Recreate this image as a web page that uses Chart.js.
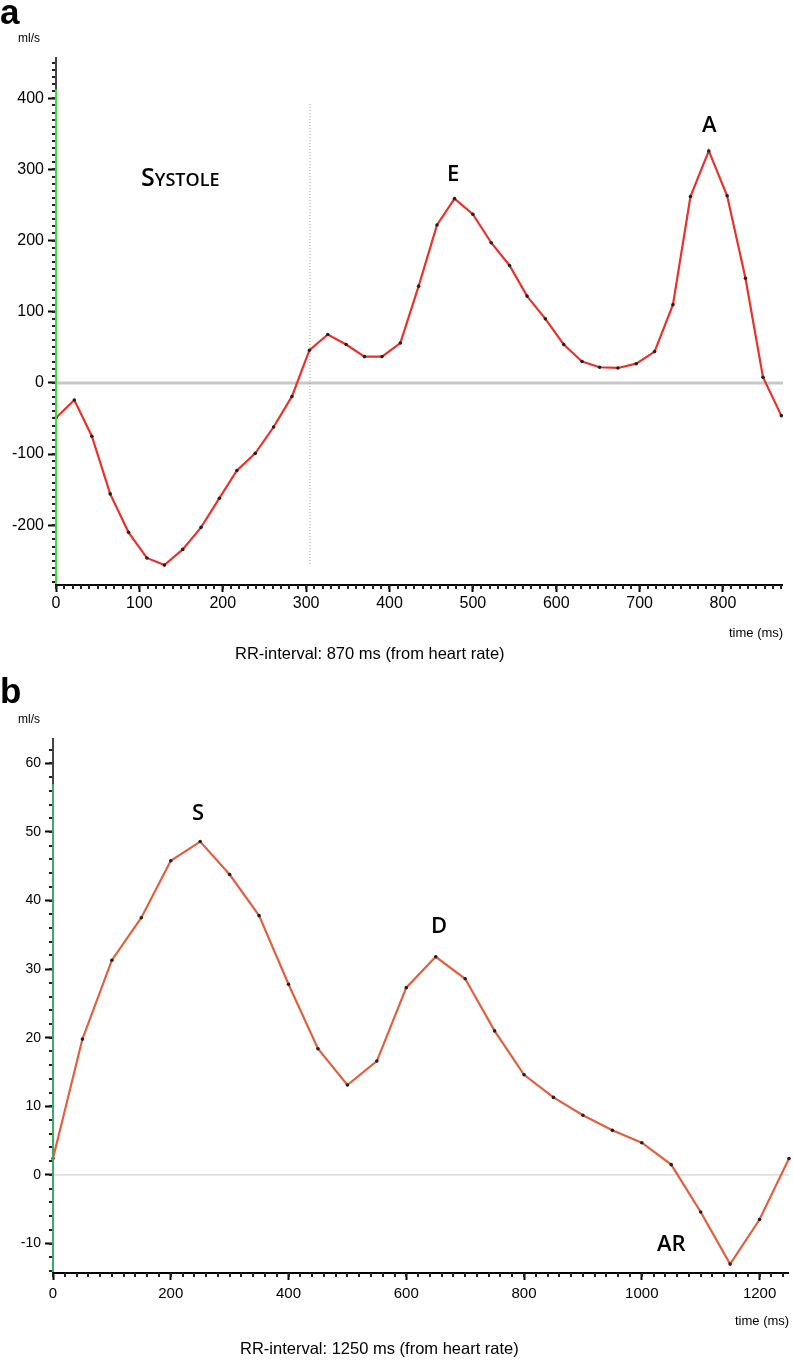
<!DOCTYPE html>
<html>
<head>
<meta charset="utf-8">
<script src="https://cdn.jsdelivr.net/npm/chart.js@4"></script>
<style>
  html, body { margin:0; padding:0; background:#fff; }
  #wrap { position:relative; width:793px; height:1361px; overflow:hidden; font-family:'Liberation Sans', Arial, sans-serif; }
  canvas { position:absolute; left:0; }
  .t { position:absolute; white-space:nowrap; color:#000; line-height:1; }
  .panel { font-weight:bold; font-size:35px; }
  .unit { font-size:12px; }
  .lbl { font-family:'Open Sans','Noto Sans',sans-serif; font-weight:600; font-size:22px; }
  .sc { font-variant:small-caps; font-size:25px; }
  .time { font-size:13px; }
  .rr { font-size:16.5px; }
</style>
</head>
<body>
<div id="wrap">
  <canvas id="ca" width="793" height="670" style="top:0"></canvas>
  <canvas id="cb" width="793" height="691" style="top:670px"></canvas>

  <div class="t panel" style="left:0;top:-6px">a</div>
  <div class="t unit" style="left:18px;top:32px">ml/s</div>
  <div class="t lbl sc" style="left:141px;top:164px">Systole</div>
  <div class="t lbl" style="left:447px;top:161px">E</div>
  <div class="t lbl" style="left:702px;top:112px">A</div>
  <div class="t time" style="left:729px;top:626px">time (ms)</div>
  <div class="t rr" style="left:235px;top:645px">RR-interval: 870 ms (from heart rate)</div>

  <div class="t panel" style="left:0;top:673px">b</div>
  <div class="t unit" style="left:18px;top:713px">ml/s</div>
  <div class="t lbl" style="left:192px;top:800px">S</div>
  <div class="t lbl" style="left:431px;top:913px">D</div>
  <div class="t lbl" style="left:657px;top:1231px">AR</div>
  <div class="t time" style="left:735px;top:1314px">time (ms)</div>
  <div class="t rr" style="left:240px;top:1340px">RR-interval: 1250 ms (from heart rate)</div>
</div>
<script>
// ---------- Panel a: mitral inflow ----------
const aTimes = [0, 22, 43, 65, 87, 109, 130, 152, 174, 196, 217, 239, 261, 283, 304, 326, 348, 370, 391, 413, 435,
                457, 478, 500, 522, 544, 565, 587, 609, 631, 652, 674, 696, 718, 740, 761, 783, 805, 827, 848, 870];
const aFlow  = [-49, -24, -75, -156, -210, -246, -256, -234, -203, -162, -123, -99, -62, -19, 46, 68, 54, 37, 37, 56, 136,
                222, 259, 237, 197, 165, 122, 90, 54, 30, 22, 21, 27, 44, 110, 262, 326, 263, 147, 8, -46];
const aXTicks = [0, 100, 200, 300, 400, 500, 600, 700, 800];
const aYTicks = [-200, -100, 0, 100, 200, 300, 400];
const aSystoleEnd = 304;

// ---------- Panel b: pulmonary venous flow ----------
const bTimes = [0, 50, 100, 150, 200, 250, 300, 350, 400, 450, 500, 550, 600, 650, 700, 750, 800, 850, 900, 950,
                1000, 1050, 1100, 1150, 1200, 1250];
const bFlow  = [2.4, 19.8, 31.3, 37.5, 45.8, 48.6, 43.8, 37.8, 27.8, 18.4, 13.1, 16.6, 27.3, 31.8, 28.6, 21.0,
                14.6, 11.3, 8.7, 6.5, 4.7, 1.5, -5.4, -13.0, -6.5, 2.4];
const bXTicks = [0, 200, 400, 600, 800, 1000, 1200];
const bYTicks = [-10, 0, 10, 20, 30, 40, 50, 60];

const FONT = "'Liberation Sans', Arial, sans-serif";

const decor = {
  id: 'decor',
  beforeDatasetsDraw(chart, args, o) {
    const ctx = chart.ctx, x = chart.scales.x, y = chart.scales.y, a = chart.chartArea;
    ctx.save();
    const y0 = y.getPixelForValue(0);
    ctx.strokeStyle = o.zeroColor; ctx.lineWidth = o.zeroWidth;
    ctx.beginPath(); ctx.moveTo(a.left, y0); ctx.lineTo(a.right, y0); ctx.stroke();
    if (o.divider != null) {
      const xd = x.getPixelForValue(o.divider);
      ctx.strokeStyle = '#9a9a9a'; ctx.lineWidth = 1; ctx.setLineDash([1, 2]);
      ctx.beginPath();
      ctx.moveTo(xd + 0.5, y.getPixelForValue(o.dividerTop));
      ctx.lineTo(xd + 0.5, y.getPixelForValue(o.dividerBottom));
      ctx.stroke();
      ctx.setLineDash([]);
    }
    ctx.restore();
  },
  afterDraw(chart, args, o) {
    const ctx = chart.ctx, x = chart.scales.x, y = chart.scales.y, a = chart.chartArea;
    ctx.save();
    const yg = y.getPixelForValue(o.greenTop);
    ctx.lineWidth = 2;
    ctx.strokeStyle = '#444';
    ctx.beginPath(); ctx.moveTo(a.left, a.top); ctx.lineTo(a.left, yg); ctx.stroke();
    ctx.strokeStyle = o.green;
    ctx.beginPath(); ctx.moveTo(a.left, yg); ctx.lineTo(a.left, a.bottom); ctx.stroke();
    ctx.fillStyle = '#222';
    for (let v = Math.ceil(y.min / o.yMinor) * o.yMinor; v <= y.max; v += o.yMinor) {
      const py = Math.round(y.getPixelForValue(v));
      ctx.fillRect(a.left - 4, py - 1, 3, 2);
    }
    ctx.strokeStyle = '#000'; ctx.lineWidth = 2;
    ctx.beginPath(); ctx.moveTo(a.left - 1, a.bottom); ctx.lineTo(a.right, a.bottom); ctx.stroke();
    for (let v = 0; v <= x.max; v += o.xMinor) {
      const px = Math.round(x.getPixelForValue(v));
      ctx.fillRect(px - 1, a.bottom, 2, 4);
    }
    ctx.restore();
  }
};

function makeChart(id, times, flow, xTicks, yTicks, cfg) {
  const data = times.map((t, i) => ({ x: t, y: flow[i] }));
  return new Chart(document.getElementById(id), {
    type: 'line',
    data: { datasets: [{
      data,
      borderColor: cfg.line,
      borderWidth: 2.2,
      pointRadius: 1.8,
      pointBackgroundColor: '#222',
      pointBorderWidth: 0,
      tension: 0,
      clip: false
    }]},
    options: {
      responsive: false,
      animation: false,
      events: [],
      layout: { padding: cfg.padding },
      plugins: { legend: { display: false }, tooltip: { enabled: false }, decor: cfg.decor },
      scales: {
        x: {
          type: 'linear', min: cfg.xMin, max: cfg.xMax,
          afterBuildTicks: s => { s.ticks = xTicks.map(v => ({ value: v })); },
          afterFit: s => { s.height = 40; },
          border: { display: false },
          grid: { drawOnChartArea: false, drawTicks: true, tickLength: 7, tickColor: '#000', tickWidth: 2 },
          ticks: { color: '#000', font: { family: FONT, size: cfg.xFont }, padding: cfg.xPad, maxRotation: 0,
                   autoSkip: false, callback: v => String(v) }
        },
        y: {
          type: 'linear', min: cfg.yMin, max: cfg.yMax,
          afterBuildTicks: s => { s.ticks = yTicks.map(v => ({ value: v })); },
          afterFit: s => { s.width = cfg.yWidth; },
          border: { display: false },
          grid: { drawOnChartArea: false, drawTicks: true, tickLength: 8, tickColor: '#000', tickWidth: 2 },
          ticks: { color: '#000', font: { family: FONT, size: cfg.yFont }, padding: 4, autoSkip: false,
                   callback: v => String(v) }
        }
      }
    },
    plugins: [decor]
  });
}

makeChart('ca', aTimes, aFlow, aXTicks, aYTicks, {
  line: '#e8322b',
  xMin: 0, xMax: 872, yMin: -284, yMax: 458,
  yWidth: 56, xFont: 16, yFont: 16, xPad: 2,
  padding: { left: 0, top: 57, right: 10, bottom: 45 },
  decor: { zeroColor: '#c8c8c8', zeroWidth: 3, divider: aSystoleEnd, dividerTop: 392, dividerBottom: -257,
           greenTop: 412, green: '#3ddc3d', yMinor: 10, xMinor: 10 }
});

makeChart('cb', bTimes, bFlow, bXTicks, bYTicks, {
  line: '#e0603f',
  xMin: 0, xMax: 1250, yMin: -14.3, yMax: 63.7,
  yWidth: 53, xFont: 15, yFont: 14, xPad: 5,
  padding: { left: 0, top: 68, right: 1, bottom: 48 },
  decor: { zeroColor: '#c8c8c8', zeroWidth: 1, divider: null,
           greenTop: 57, green: '#3aaa6a', yMinor: 2, xMinor: 20 }
});
</script>
</body>
</html>
